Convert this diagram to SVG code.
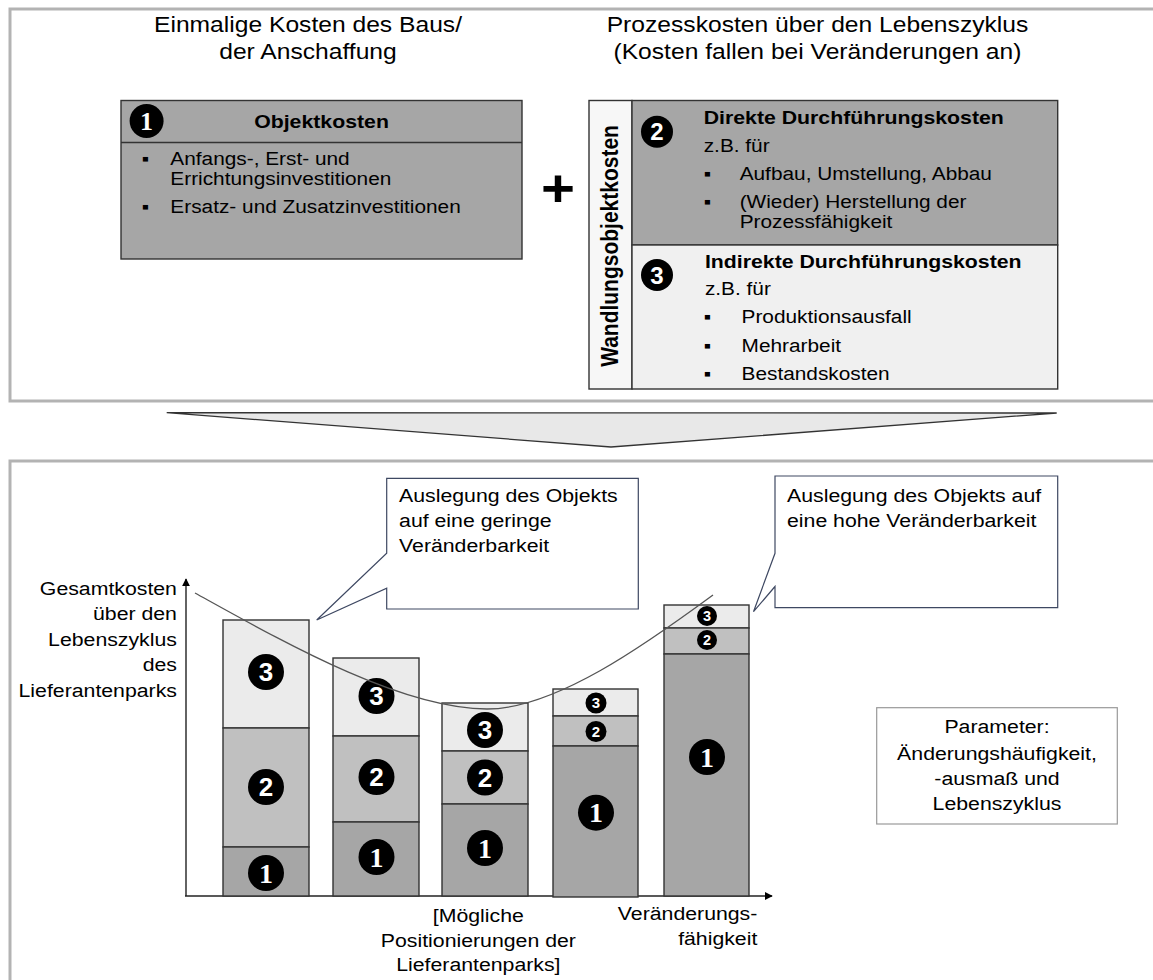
<svg xmlns="http://www.w3.org/2000/svg" width="1153" height="980" viewBox="0 0 1153 980">
  <defs>
    <style>
      .t{font-family:"Liberation Sans",Arial,Helvetica,sans-serif;fill:#000}
      .b{font-weight:bold}
      .h{font-size:22px}
      .m{font-size:19px}
      .s{font-size:18.6px}
      .mid{text-anchor:middle}
      .end{text-anchor:end}
      .frame{fill:#fff;stroke:#b3b3b3;stroke-width:3}
      .box{stroke:#333;stroke-width:1.4}
      .g1{fill:#a6a6a6}
      .g2{fill:#c0c0c0}
      .g3{fill:#ebebeb}
      .call{fill:#fff;stroke:#3e4862;stroke-width:1.2;stroke-linejoin:miter}
      .dot{fill:#000}
      .ds{font-family:"Liberation Sans",Arial,sans-serif;font-weight:bold;fill:#fff;text-anchor:middle}
      .dr{font-family:"Liberation Serif","Times New Roman",serif;font-weight:bold;fill:#fff;text-anchor:middle}
      .axis{stroke:#222;stroke-width:1.4;fill:none}
    </style>
    <marker id="ah" viewBox="0 0 10 10" refX="9" refY="5" markerWidth="8" markerHeight="8" markerUnits="userSpaceOnUse" orient="auto">
      <path d="M0,0 L10,5 L0,10 Z" fill="#000"/>
    </marker>
  </defs>

  <rect width="1153" height="980" fill="#fff"/>

  <!-- upper panel: cost categories -->
  <g id="panel-costs">
    <rect class="frame" x="10" y="9" width="1160" height="392"/>
    <text class="t h mid" transform="scale(1.12,1)" x="275" y="32">Einmalige Kosten des Baus/</text>
    <text class="t h mid" transform="scale(1.12,1)" x="275" y="59">der Anschaffung</text>
    <text class="t h mid" transform="scale(1.12,1)" x="729.9" y="32">Prozesskosten über den Lebenszyklus</text>
    <text class="t h mid" transform="scale(1.12,1)" x="729.9" y="59">(Kosten fallen bei Veränderungen an)</text>
  </g>

  <g id="objektkosten">
    <rect class="box g1" x="121" y="100.5" width="401" height="158.5"/>
    <line x1="121" y1="142.5" x2="522" y2="142.5" stroke="#333" stroke-width="1.4"/>
    <circle class="dot" cx="146.6" cy="121" r="17"/>
    <text class="dr" x="146.6" y="130" font-size="26">1</text>
    <text class="t b m mid" transform="scale(1.12,1)" x="287.1" y="128">Objektkosten</text>
    <text class="t s mid" transform="scale(1.12,1)" x="129.8" y="165">▪</text>
    <text class="t s" transform="scale(1.12,1)" x="152.1" y="165">Anfangs-, Erst- und</text>
    <text class="t s" transform="scale(1.12,1)" x="152.1" y="185">Errichtungsinvestitionen</text>
    <text class="t s mid" transform="scale(1.12,1)" x="129.8" y="212.7">▪</text>
    <text class="t s" transform="scale(1.12,1)" x="152.1" y="212.7">Ersatz- und Zusatzinvestitionen</text>
  </g>

  <g id="plus">
    <text class="t b mid" transform="scale(1.12,1)" x="498.2" y="206" font-size="52">+</text>
  </g>

  <g id="wandlungsobjektkosten">
    <rect class="box" x="589" y="100.5" width="43" height="288.5" fill="#f7f7f7"/>
    <text class="t b mid" transform="translate(610,246) scale(1.12,1) rotate(-90)" x="0" y="0" dy="0.36em" font-size="21">Wandlungsobjektkosten</text>
  </g>

  <g id="direkte-kosten">
    <rect class="box g1" x="632" y="100.5" width="425.7" height="144.5"/>
    <circle class="dot" cx="657" cy="131.7" r="16"/>
    <text class="ds" x="657" y="140.3" font-size="24">2</text>
    <text class="t b m" transform="scale(1.12,1)" x="628.3" y="124.3">Direkte Durchführungskosten</text>
    <text class="t s" transform="scale(1.12,1)" x="628.3" y="152.3">z.B. für</text>
    <text class="t s mid" transform="scale(1.12,1)" x="631.7" y="180">▪</text>
    <text class="t s" transform="scale(1.12,1)" x="660.4" y="180">Aufbau, Umstellung, Abbau</text>
    <text class="t s mid" transform="scale(1.12,1)" x="631.7" y="208.3">▪</text>
    <text class="t s" transform="scale(1.12,1)" x="660.4" y="208.3">(Wieder) Herstellung der</text>
    <text class="t s" transform="scale(1.12,1)" x="660.4" y="228.3">Prozessfähigkeit</text>
  </g>

  <g id="indirekte-kosten">
    <rect class="box" x="632" y="245" width="425.7" height="144" fill="#f0f0f0"/>
    <circle class="dot" cx="657" cy="275" r="16"/>
    <text class="ds" x="657" y="283.6" font-size="24">3</text>
    <text class="t b m" transform="scale(1.12,1)" x="629.4" y="268.3">Indirekte Durchführungskosten</text>
    <text class="t s" transform="scale(1.12,1)" x="629.4" y="295">z.B. für</text>
    <text class="t s mid" transform="scale(1.12,1)" x="631.7" y="323.3">▪</text>
    <text class="t s" transform="scale(1.12,1)" x="662.1" y="323.3">Produktionsausfall</text>
    <text class="t s mid" transform="scale(1.12,1)" x="631.7" y="351.7">▪</text>
    <text class="t s" transform="scale(1.12,1)" x="662.1" y="351.7">Mehrarbeit</text>
    <text class="t s mid" transform="scale(1.12,1)" x="631.7" y="380">▪</text>
    <text class="t s" transform="scale(1.12,1)" x="662.1" y="380">Bestandskosten</text>
  </g>

  <!-- transition arrow between the two panels -->
  <g id="uebergang">
    <polygon points="166.7,412.7 1056.7,413 611,447" fill="#e8e8e8" stroke="#333" stroke-width="1.3"/>
  </g>

  <!-- lower panel: total cost over the life cycle -->
  <g id="panel-chart">
    <rect class="frame" x="10" y="461" width="1160" height="540"/>
  </g>

  <g id="achsen">
    <line class="axis" x1="186" y1="896" x2="186" y2="579" marker-end="url(#ah)"/>
    <line class="axis" x1="185" y1="896" x2="772" y2="896" marker-end="url(#ah)"/>
    <text class="t m end" transform="scale(1.12,1)" x="158" y="595">Gesamtkosten</text>
    <text class="t m end" transform="scale(1.12,1)" x="158" y="620.5">über den</text>
    <text class="t m end" transform="scale(1.12,1)" x="158" y="646">Lebenszyklus</text>
    <text class="t m end" transform="scale(1.12,1)" x="158" y="671.5">des</text>
    <text class="t m end" transform="scale(1.12,1)" x="158" y="697">Lieferantenparks</text>
    <text class="t m mid" transform="scale(1.12,1)" x="427.1" y="922.5">[Mögliche</text>
    <text class="t m mid" transform="scale(1.12,1)" x="427.1" y="947">Positionierungen der</text>
    <text class="t m mid" transform="scale(1.12,1)" x="427.1" y="971.5">Lieferantenparks]</text>
    <text class="t m end" transform="scale(1.12,1)" x="676.2" y="920">Veränderungs-</text>
    <text class="t m end" transform="scale(1.12,1)" x="676.2" y="945">fähigkeit</text>
  </g>

  <g id="saeule-1">
    <rect class="box g3" x="223" y="620" width="86" height="108"/>
    <rect class="box g2" x="223" y="728" width="86" height="119"/>
    <rect class="box g1" x="223" y="847" width="86" height="49"/>
    <circle class="dot" cx="266" cy="672" r="18"/><text class="ds" x="266" y="681.3" font-size="26">3</text>
    <circle class="dot" cx="266" cy="787" r="18"/><text class="ds" x="266" y="796.3" font-size="26">2</text>
    <circle class="dot" cx="266" cy="873" r="18"/><text class="dr" x="266" y="882.5" font-size="28">1</text>
  </g>

  <g id="saeule-2">
    <rect class="box g3" x="333" y="658" width="86" height="78"/>
    <rect class="box g2" x="333" y="736" width="86" height="86"/>
    <rect class="box g1" x="333" y="822" width="86" height="74"/>
    <circle class="dot" cx="376.5" cy="696" r="18"/><text class="ds" x="376.5" y="705.3" font-size="26">3</text>
    <circle class="dot" cx="376.5" cy="777" r="18"/><text class="ds" x="376.5" y="786.3" font-size="26">2</text>
    <circle class="dot" cx="376.5" cy="857" r="18"/><text class="dr" x="376.5" y="866.5" font-size="28">1</text>
  </g>

  <g id="saeule-3">
    <rect class="box g3" x="442" y="703" width="86" height="48"/>
    <rect class="box g2" x="442" y="751" width="86" height="53"/>
    <rect class="box g1" x="442" y="804" width="86" height="92"/>
    <circle class="dot" cx="485" cy="730" r="18"/><text class="ds" x="485" y="739.3" font-size="26">3</text>
    <circle class="dot" cx="485" cy="777.5" r="18"/><text class="ds" x="485" y="786.8" font-size="26">2</text>
    <circle class="dot" cx="485" cy="848" r="18"/><text class="dr" x="485" y="857.5" font-size="28">1</text>
  </g>

  <g id="saeule-4">
    <rect class="box g3" x="553" y="689" width="85" height="27"/>
    <rect class="box g2" x="553" y="716" width="85" height="30"/>
    <rect class="box g1" x="553" y="746" width="85" height="151"/>
    <circle class="dot" cx="596" cy="703" r="10.5"/><text class="ds" x="596" y="708.4" font-size="15">3</text>
    <circle class="dot" cx="596" cy="731.5" r="10.5"/><text class="ds" x="596" y="736.9" font-size="15">2</text>
    <circle class="dot" cx="596" cy="812.7" r="18"/><text class="dr" x="596" y="822.2" font-size="28">1</text>
  </g>

  <g id="saeule-5">
    <rect class="box g3" x="664" y="605" width="85" height="23"/>
    <rect class="box g2" x="664" y="628" width="85" height="26"/>
    <rect class="box g1" x="664" y="654" width="85" height="242"/>
    <circle class="dot" cx="707" cy="616" r="10"/><text class="ds" x="707" y="621.2" font-size="14.5">3</text>
    <circle class="dot" cx="707" cy="640" r="10"/><text class="ds" x="707" y="645.2" font-size="14.5">2</text>
    <circle class="dot" cx="707" cy="757" r="18"/><text class="dr" x="707" y="766.5" font-size="28">1</text>
  </g>

  <g id="kostenkurve">
    <path d="M195,593 C280,640 400,709 487,709 C555,709 645,645 713,595" fill="none" stroke="#555" stroke-width="1.3"/>
  </g>

  <g id="hinweis-gering">
    <path class="call" d="M386.7,478.3 H638.3 V609 H386.7 V588.3 L316.7,620 L386.7,553.3 Z"/>
    <text class="t m" transform="scale(1.12,1)" x="356.3" y="502.5">Auslegung des Objekts</text>
    <text class="t m" transform="scale(1.12,1)" x="356.3" y="527.5">auf eine geringe</text>
    <text class="t m" transform="scale(1.12,1)" x="356.3" y="552.5">Veränderbarkeit</text>
  </g>

  <g id="hinweis-hoch">
    <path class="call" d="M775,476 H1057.7 V607.7 H775 V586.5 L753.5,611.7 L775,553.3 Z"/>
    <text class="t m" transform="scale(1.12,1)" x="702.7" y="501.7">Auslegung des Objekts auf</text>
    <text class="t m" transform="scale(1.12,1)" x="702.7" y="526.7">eine hohe Veränderbarkeit</text>
  </g>

  <g id="parameter">
    <rect x="876.7" y="707.7" width="240.6" height="116.3" fill="#fff" stroke="#999" stroke-width="1.2"/>
    <text class="t m mid" transform="scale(1.12,1)" x="890.2" y="733">Parameter:</text>
    <text class="t m mid" transform="scale(1.12,1)" x="890.2" y="760">Änderungshäufigkeit,</text>
    <text class="t m mid" transform="scale(1.12,1)" x="890.2" y="785">-ausmaß und</text>
    <text class="t m mid" transform="scale(1.12,1)" x="890.2" y="810">Lebenszyklus</text>
  </g>
</svg>
